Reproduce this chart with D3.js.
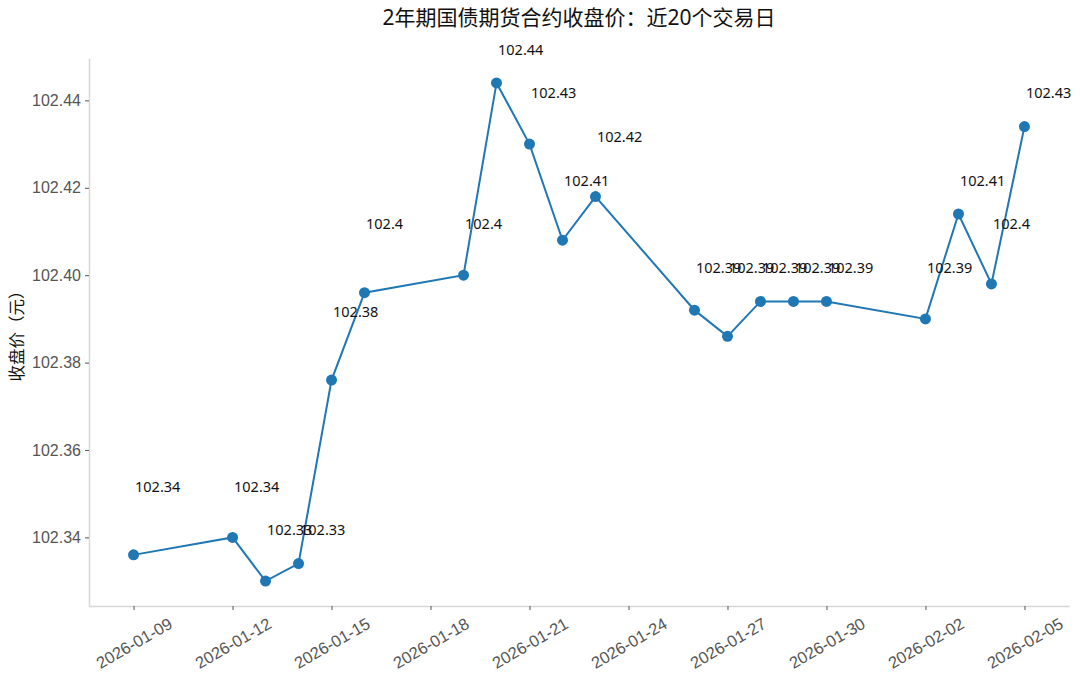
<!DOCTYPE html>
<html>
<head>
<meta charset="utf-8">
<script src="https://cdn.jsdelivr.net/npm/d3@7"></script>
<style>
  html, body { margin: 0; padding: 0; background: #fff; }
  svg { display: block; font-family: "Noto Sans", "Noto Sans CJK SC", sans-serif; }
</style>
</head>
<body>
<svg id="chart" width="1080" height="683"></svg>
<script>
// Trading days and closing prices of the 2-year treasury bond futures contract
const dates = [
  "2026-01-09", "2026-01-12", "2026-01-13", "2026-01-14", "2026-01-15",
  "2026-01-16", "2026-01-19", "2026-01-20", "2026-01-21", "2026-01-22",
  "2026-01-23", "2026-01-26", "2026-01-27", "2026-01-28", "2026-01-29",
  "2026-01-30", "2026-02-02", "2026-02-03", "2026-02-04", "2026-02-05"
];
const closes = [
  102.336, 102.340, 102.330, 102.334, 102.376,
  102.396, 102.400, 102.444, 102.430, 102.408,
  102.418, 102.392, 102.386, 102.394, 102.394,
  102.394, 102.390, 102.414, 102.398, 102.434
];
const xTickLabels = [
  "2026-01-09", "2026-01-12", "2026-01-15", "2026-01-18", "2026-01-21",
  "2026-01-24", "2026-01-27", "2026-01-30", "2026-02-02", "2026-02-05"
];
const yTickValues = [102.34, 102.36, 102.38, 102.40, 102.42, 102.44];
const titleText = "2年期国债期货合约收盘价：近20个交易日";
const yLabelText = "收盘价（元）";

const parse = d3.utcParse("%Y-%m-%d");
const data = dates.map((d, i) => ({ date: parse(d), value: closes[i] }));

const margin = { left: 89, right: 11, top: 58, bottom: 77 };
const W = 1080, H = 683;
const svg = d3.select("#chart");

const [d0, d1] = d3.extent(data, d => d.date);
const xPad = (d1 - d0) * 0.05;
const x = d3.scaleUtc()
  .domain([new Date(+d0 - xPad), new Date(+d1 + xPad)])
  .range([margin.left, W - margin.right]);

const [v0, v1] = d3.extent(closes);
const yPad = (v1 - v0) * 0.05;
const y = d3.scaleLinear()
  .domain([v0 - yPad, v1 + yPad])
  .range([H - margin.bottom, margin.top]);

const tickColor = "#555";
const spineColor = "#d6d6d6";

// Y axis
const yAxis = svg.append("g")
  .attr("transform", `translate(${margin.left},0)`)
  .call(d3.axisLeft(y).tickValues(yTickValues).tickFormat(d3.format(".2f"))
    .tickSize(4).tickSizeOuter(0).tickPadding(4));
yAxis.select(".domain").attr("stroke", spineColor).attr("stroke-width", 1.5);
yAxis.selectAll(".tick line").attr("stroke", tickColor);
yAxis.selectAll(".tick text")
  .attr("fill", tickColor)
  .style("font-size", "16px");

// X axis
const xAxis = svg.append("g")
  .attr("transform", `translate(0,${H - margin.bottom})`)
  .call(d3.axisBottom(x).tickValues(xTickLabels.map(parse))
    .tickFormat(d3.utcFormat("%Y-%m-%d"))
    .tickSize(4).tickSizeOuter(0));
xAxis.select(".domain").attr("stroke", spineColor).attr("stroke-width", 1.5);
xAxis.selectAll(".tick line").attr("stroke", tickColor);
xAxis.selectAll(".tick text")
  .attr("fill", tickColor)
  .style("font-size", "16.5px")
  .attr("text-anchor", "middle")
  .attr("dominant-baseline", "central")
  .attr("y", null).attr("dy", null)
  .attr("transform", "translate(0,37) rotate(-30)");

// Price line
const line = d3.line().x(d => x(d.date)).y(d => y(d.value));
svg.append("path")
  .datum(data)
  .attr("fill", "none")
  .attr("stroke", "#1f77b4")
  .attr("stroke-width", 2)
  .attr("d", line);

// Markers
svg.append("g").selectAll("circle")
  .data(data)
  .join("circle")
  .attr("cx", d => x(d.date))
  .attr("cy", d => y(d.value))
  .attr("r", 5.5)
  .attr("fill", "#1f77b4");

// Value labels, positioned at the rounded value plus a fixed lift
const round2 = v => Math.round(v * 100) / 100;
svg.append("g").selectAll("text")
  .data(data)
  .join("text")
  .attr("x", d => x(d.date) + 1.5)
  .attr("y", d => y(round2(d.value) + 0.0105))
  .attr("fill", "#111")
  .style("font-size", "14.5px")
  .text(d => String(round2(d.value)));

// Title
svg.append("text")
  .attr("x", (margin.left + W - margin.right) / 2)
  .attr("y", 25)
  .attr("text-anchor", "middle")
  .attr("fill", "#111")
  .style("font-size", "21px")
  .text(titleText);

// Y label
svg.append("text")
  .attr("transform", `translate(23,${(margin.top + H - margin.bottom) / 2}) rotate(-90)`)
  .attr("text-anchor", "middle")
  .attr("fill", "#111")
  .style("font-size", "16.5px")
  .text(yLabelText);
</script>
</body>
</html>
